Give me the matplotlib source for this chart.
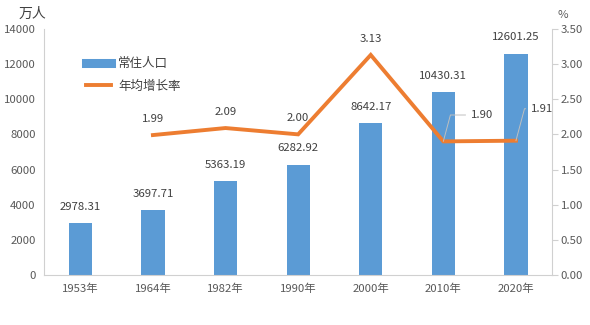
import matplotlib.pyplot as plt
import numpy as np
from matplotlib.lines import Line2D

plt.rcParams['font.family'] = ['Noto Sans CJK SC', 'DejaVu Sans']

years = ['1953年', '1964年', '1982年', '1990年', '2000年', '2010年', '2020年']
population = [2978.31, 3697.71, 5363.19, 6282.92, 8642.17, 10430.31, 12601.25]
rate_years = [1, 2, 3, 4, 5, 6]
rate = [1.99, 2.09, 2.00, 3.13, 1.90, 1.91]

blue = '#5B9BD5'
orange = '#ED7D31'
grey = '#595959'
axis_grey = '#D0D0D0'
fs = 8.2

fig = plt.figure(figsize=(5.9, 3.25), dpi=100)
ax = fig.add_axes([0.0746, 0.154, 0.8614, 0.757])
ax2 = ax.twinx()

x = np.arange(len(years))
ax.bar(x, population, width=0.32, color=blue, zorder=2)
for xi, v in zip(x, population):
    ax.annotate(f'{v:.2f}', (xi, v), xytext=(0, 8), textcoords='offset points',
                ha='center', va='bottom', fontsize=fs, color='#404040')

ax2.plot(rate_years, rate, color=orange, lw=2.8, solid_joinstyle='miter', zorder=3)
for xi, v in zip(rate_years[:4], rate[:4]):
    ax2.annotate(f'{v:.2f}', (xi, v), xytext=(0, 8), textcoords='offset points',
                 ha='center', va='bottom', fontsize=fs, color='#404040')

# labels with leader lines for the last two points
for xi, v, dx, dy in [(5, rate[4], 14, 19), (6, rate[5], 5, 23)]:
    ax2.annotate(f'{v:.2f}', (xi, v), xytext=(dx + 6, dy), textcoords='offset points',
                 ha='left', va='center', fontsize=fs, color='#404040',
                 arrowprops=dict(arrowstyle='-', color='#BFBFBF', lw=0.7,
                                 connectionstyle='angle,angleA=0,angleB=75,rad=0',
                                 shrinkA=2, shrinkB=0))

ax.set_xlim(-0.5, len(years) - 0.5)
ax.set_ylim(0, 14000)
ax.set_yticks(range(0, 14001, 2000))
ax2.set_ylim(0, 3.5)
ax2.set_yticks(np.arange(0, 3.51, 0.5))
ax2.set_yticklabels([f'{t:.2f}' for t in np.arange(0, 3.51, 0.5)])
ax.set_xticks(x)
ax.set_xticklabels(years)

for a in (ax, ax2):
    for s in a.spines.values():
        s.set_visible(False)
ax.spines['bottom'].set_visible(True)
ax.spines['bottom'].set_color(axis_grey)
ax.spines['left'].set_visible(True)
ax.spines['left'].set_color(axis_grey)
ax2.spines['right'].set_visible(True)
ax2.spines['right'].set_color(axis_grey)

ax.tick_params(axis='y', length=0, labelsize=fs, labelcolor=grey, pad=6)
ax.tick_params(axis='x', length=0, labelsize=fs, labelcolor=grey, pad=6)
ax2.tick_params(axis='y', length=4, color=axis_grey, labelsize=fs, labelcolor=grey, pad=2)

fig.text(0.032, 0.958, '万人', fontsize=10, color='#404040', va='center')
fig.text(0.945, 0.955, '%', fontsize=fs, color=grey, va='center')

handles = [Line2D([], [], color=blue, lw=6.5), Line2D([], [], color=orange, lw=2.8)]
ax.legend(handles, ['常住人口', '年均增长率'], loc='upper left', bbox_to_anchor=(0.06, 0.93),
          frameon=False, fontsize=9, handlelength=2.0, labelspacing=0.75, handletextpad=0.6,
          labelcolor='#404040')

fig.savefig('out.png', dpi=100)
